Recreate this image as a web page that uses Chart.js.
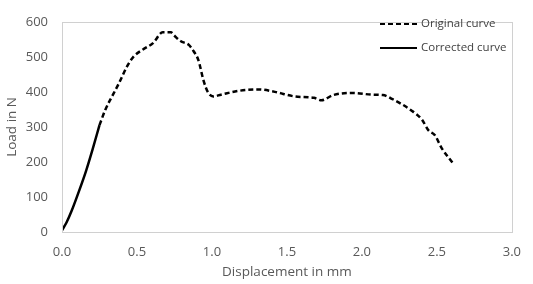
<!DOCTYPE html>
<html><head><meta charset="utf-8">
<script src="https://cdn.jsdelivr.net/npm/chart.js@4"></script>
<style>html,body{margin:0;padding:0;background:#fff}#w{width:533px;height:284px}</style>
</head><body><div id="w"><canvas id="c"></canvas></div>
<script>
const correctedX = [0.0, 0.03, 0.063, 0.117, 0.16, 0.204, 0.25];
const correctedY = [5, 27, 59, 121, 174, 236, 305];
const originalX = [0.25, 0.29, 0.34, 0.378, 0.433, 0.476, 0.54, 0.607, 0.672, 0.726, 0.748, 0.79, 0.846, 0.878, 0.91, 0.944, 0.976, 1.01, 1.06, 1.18, 1.31, 1.42, 1.55, 1.68, 1.73, 1.81, 1.94, 2.07, 2.14, 2.205, 2.33, 2.4, 2.444, 2.487, 2.53, 2.607];
const originalY = [305, 350, 392, 423, 472, 500, 521, 539, 570, 570, 561, 545, 534, 516, 490, 432, 397, 387, 392, 403, 407, 400, 387, 383, 376, 391, 397, 392, 391, 379, 347, 321, 290, 276, 241, 196];
const yTicks = [0, 100, 200, 300, 400, 500, 600];
const xTicks = [0.0, 0.5, 1.0, 1.5, 2.0, 2.5, 3.0];
const seriesNames = ["Original curve", "Corrected curve"];
const xTitle = "Displacement in mm";
const yTitle = "Load in N";

const FONT = "'Open Sans', 'Liberation Sans', sans-serif";
const toPts = (xs, ys) => xs.map((x, i) => ({x, y: ys[i]}));

const framePlugin = {
  id: 'frame',
  afterDatasetsDraw(chart) {
    const {ctx, chartArea: a} = chart;
    ctx.save();
    ctx.strokeStyle = '#d0d0d0';
    ctx.lineWidth = 1;
    ctx.strokeRect(Math.round(a.left) + 0.5, Math.round(a.top) + 0.5, Math.round(a.right - a.left), Math.round(a.bottom - a.top));
    const lx0 = 380, lx1 = 417, tx = 421;
    const rows = [24, 48];
    ctx.font = "11.5px " + FONT;
    ctx.textBaseline = 'middle';
    ctx.fillStyle = '#404040';
    chart.data.datasets.forEach((ds, i) => {
      ctx.beginPath();
      ctx.setLineDash(ds.borderDash || []);
      ctx.strokeStyle = '#000';
      ctx.lineWidth = 2;
      ctx.moveTo(lx0, rows[i]);
      ctx.lineTo(lx1, rows[i]);
      ctx.stroke();
      ctx.setLineDash([]);
      ctx.fillText(ds.label, tx, rows[i]);
    });
    ctx.restore();
  }
};

new Chart(document.getElementById('c'), {
  type: 'line',
  data: {
    datasets: [
      {label: seriesNames[0], data: toPts(originalX, originalY), borderColor: '#000', borderWidth: 2.5, borderDash: [5, 3], pointRadius: 0, cubicInterpolationMode: 'monotone', fill: false},
      {label: seriesNames[1], data: toPts(correctedX, correctedY), borderColor: '#000', borderWidth: 2.5, pointRadius: 0, cubicInterpolationMode: 'monotone', fill: false}
    ]
  },
  options: {
    responsive: true,
    maintainAspectRatio: false,
    animation: false,
    layout: {padding: {top: 7, right: 11, left: 0, bottom: 0}, autoPadding: false},
    plugins: {legend: {display: false}, tooltip: {enabled: false}},
    scales: {
      x: {
        type: 'linear', min: 0, max: 3,
        afterBuildTicks: s => { s.ticks = xTicks.map(v => ({value: v})); },
        afterFit: s => { s.height = 52; },
        grid: {display: false, drawTicks: false},
        border: {display: false},
        ticks: {color: '#595959', font: {family: FONT, size: 13}, padding: 12, callback: v => Number(v).toFixed(1), maxRotation: 0},
        title: {display: true, text: xTitle, color: '#595959', font: {family: FONT, size: 13.5}, padding: {top: 0}}
      },
      y: {
        type: 'linear', min: 0, max: 600,
        afterBuildTicks: s => { s.ticks = yTicks.map(v => ({value: v})); },
        afterFit: s => { s.width = 62; },
        grid: {display: false, drawTicks: false},
        border: {display: false},
        ticks: {color: '#595959', font: {family: FONT, size: 13}, padding: 14},
        title: {display: true, text: yTitle, color: '#595959', font: {family: FONT, size: 13.5}, padding: {bottom: 0}}
      }
    }
  },
  plugins: [framePlugin]
});
</script></body></html>
